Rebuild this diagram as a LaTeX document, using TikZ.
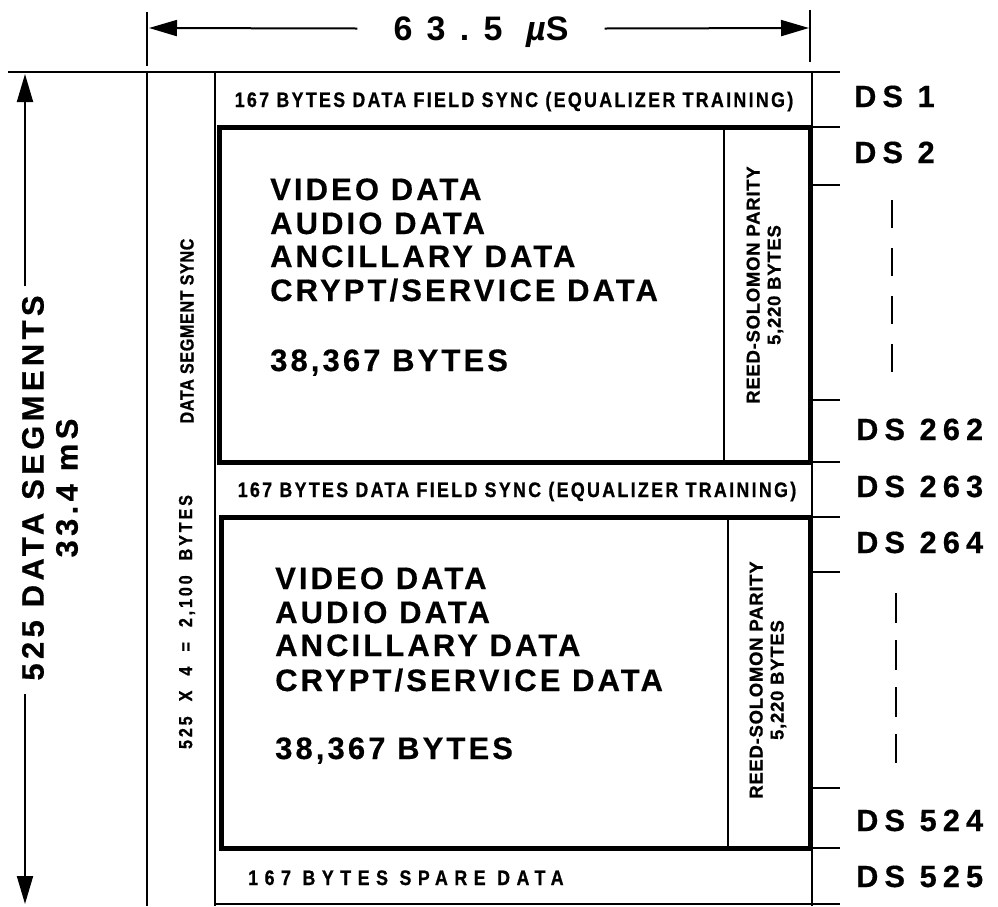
\documentclass[tikz,border=0pt]{standalone}
\usepackage{fontspec}
\setmainfont{Liberation Sans}
\newfontfamily\fTop{Liberation Sans}[LetterSpace=42]
\newfontfamily\fDS{Liberation Sans}[LetterSpace=20,BoldFeatures={FakeBold=0.5}]
\newfontfamily\fBig{Liberation Sans}[LetterSpace=10,BoldFeatures={FakeBold=0.4}]
\newfontfamily\fVert{Liberation Sans}[LetterSpace=14,BoldFeatures={FakeBold=0.5}]
\newfontfamily\fRow{Liberation Sans}[FakeStretch=0.85,LetterSpace=11,BoldFeatures={FakeBold=0.8}]
\newfontfamily\fSpare{Liberation Sans}[FakeStretch=0.85,LetterSpace=31,BoldFeatures={FakeBold=0.8}]
\newfontfamily\fRS{Liberation Sans}[LetterSpace=4,BoldFeatures={FakeBold=0.8}]
\newfontfamily\fCol{Liberation Sans}[FakeStretch=0.85,LetterSpace=3.3,BoldFeatures={FakeBold=0.8}]
\newfontfamily\fColB{Liberation Sans}[FakeStretch=0.85,LetterSpace=15,BoldFeatures={FakeBold=0.8}]
\usetikzlibrary{arrows.meta}
\tikzset{
  thinln/.style={line width=2pt},
  thickln/.style={line width=5pt},
  tickln/.style={line width=1.6pt},
  dashln/.style={line width=1.8pt},
  arr/.style={line width=2pt,-{Triangle[length=28pt,width=16pt]}},
  txt/.style={inner sep=0pt},
  bigtxt/.style={txt,anchor=base west,font=\fBig\bfseries\fontsize{31}{31}\selectfont},
  dstxt/.style={txt,anchor=base west,font=\fDS\bfseries\fontsize{30.7}{30.7}\selectfont},
  rowtxt/.style={txt,anchor=base,font=\fRow\bfseries\fontsize{21}{21}\selectfont},
  rstxt/.style={txt,rotate=90,align=center,font=\fRS\bfseries\fontsize{18.5}{21}\selectfont},
  coltxt/.style={txt,rotate=90,font=\fCol\bfseries\fontsize{19}{19}\selectfont},
}
\newcommand{\wsp}{\hspace{15pt}}
\begin{document}
\begin{tikzpicture}[x=1pt,y=-1pt]
\useasboundingbox (0,0) rectangle (998,906);

% ---- top dimension ----
\coordinate (tlA) at (147,12); \coordinate (tlB) at (147,66);
\coordinate (trA) at (810,10); \coordinate (trB) at (810,62);
\draw[tickln] (tlA) -- (tlB);
\draw[tickln] (trA) -- (trB);
\node[txt, inner xsep=36pt, text height=24pt, text depth=0pt,
      font=\fTop\bfseries\fontsize{34}{34}\selectfont] (w) at (481,28.5) {63.5 {\itshape µ}S};
\coordinate (aL) at (149,28); \coordinate (aR) at (809,28);
\draw[arr] (w.west) -- (aL);
\draw[arr] (w.east) -- (aR);

% ---- left dimension ----
\coordinate (vT) at (25,74); \coordinate (vU) at (25,286);
\coordinate (vD) at (25,694); \coordinate (vB) at (25,904);
\draw[arr] (vU) -- (vT);
\draw[arr] (vD) -- (vB);
\node[txt, rotate=90, align=center,
      font=\fVert\bfseries\fontsize{31}{34}\selectfont] (seg) at (50,488) {525 DATA SEGMENTS\\33.4 mS};

% ---- frame ----
\coordinate (topL) at (8,72); \coordinate (topR) at (840,72);
\draw[thinln] (topL) -- (topR);
\coordinate (fL1) at (147,72); \coordinate (fL2) at (147,906);
\draw[thinln] (fL1) -- (fL2);
\coordinate (cL1) at (215,72); \coordinate (cL2) at (215,906);
\draw[thinln] (cL1) -- (cL2);
\coordinate (fR1) at (812,72); \coordinate (fR2) at (812,906);
\draw[thinln] (fR1) -- (fR2);
\coordinate (botL) at (215,904); \coordinate (botR) at (840,904);
\draw[thinln] (botL) -- (botR);

% thick boxes
\draw[thickln] (219,127) rectangle (810,462);
\draw[thickln] (221,517) rectangle (810,848);
\coordinate (rsA1) at (724,127); \coordinate (rsA2) at (724,462);
\draw[thinln] (rsA1) -- (rsA2);
\coordinate (rsB1) at (728,517); \coordinate (rsB2) at (728,848);
\draw[thinln] (rsB1) -- (rsB2);

% right ticks
\foreach \yy in {127,185,400,462,517,572,788,848}{
  \coordinate (tkA) at (812,\yy); \coordinate (tkB) at (840,\yy);
  \draw[tickln] (tkA) -- (tkB);
}

% dashed continuation lines
\coordinate (dA1) at (892,200); \coordinate (dA2) at (892,373);
\draw[dashln, dash pattern=on 28pt off 20pt] (dA1) -- (dA2);
\coordinate (dB1) at (896,593); \coordinate (dB2) at (896,763);
\draw[dashln, dash pattern=on 30pt off 17pt] (dB1) -- (dB2);

% ---- row texts ----
\node[rowtxt] (r1) at (514,107) {167 BYTES DATA FIELD SYNC (EQUALIZER TRAINING)};
\node[rowtxt] (r2) at (517,497) {167 BYTES DATA FIELD SYNC (EQUALIZER TRAINING)};
\node[txt, anchor=base west, font=\fSpare\bfseries\fontsize{21}{21}\selectfont] (r3) at (248,885) {167 BYTES SPARE DATA};

% ---- big data texts ----
\node[bigtxt] (a1) at (270,200) {VIDEO DATA};
\node[bigtxt] (a2) at (270,234) {AUDIO DATA};
\node[bigtxt] (a3) at (270,267) {ANCILLARY DATA};
\node[bigtxt] (a4) at (270,301) {CRYPT/SERVICE DATA};
\node[bigtxt] (a5) at (270,371) {38,367 BYTES};
\node[bigtxt] (b1) at (275,589) {VIDEO DATA};
\node[bigtxt] (b2) at (275,623) {AUDIO DATA};
\node[bigtxt] (b3) at (275,656) {ANCILLARY DATA};
\node[bigtxt] (b4) at (275,691) {CRYPT/SERVICE DATA};
\node[bigtxt] (b5) at (275,759) {38,367 BYTES};

% ---- Reed-Solomon ----
\node[rstxt] (rs1) at (765,285) {REED-SOLOMON PARITY\\5,220 BYTES};
\node[rstxt] (rs2) at (768,680) {REED-SOLOMON PARITY\\5,220 BYTES};

% ---- left column ----
\node[coltxt] (dss) at (187,331) {DATA SEGMENT SYNC};
\node[coltxt, font=\fColB\bfseries\fontsize{19}{19}\selectfont] (cnt) at (187,622) {525\wsp X\wsp 4\wsp =\wsp 2,100\wsp BYTES};

% ---- DS labels ----
\node[dstxt] (ds1) at (854,107) {DS 1};
\node[dstxt] (ds2) at (854,163) {DS 2};
\node[dstxt] (ds262) at (856,440) {DS 262};
\node[dstxt] (ds263) at (856,497) {DS 263};
\node[dstxt] (ds264) at (856,553) {DS 264};
\node[dstxt] (ds524) at (856,831) {DS 524};
\node[dstxt] (ds525) at (856,887) {DS 525};
\end{tikzpicture}
\end{document}
